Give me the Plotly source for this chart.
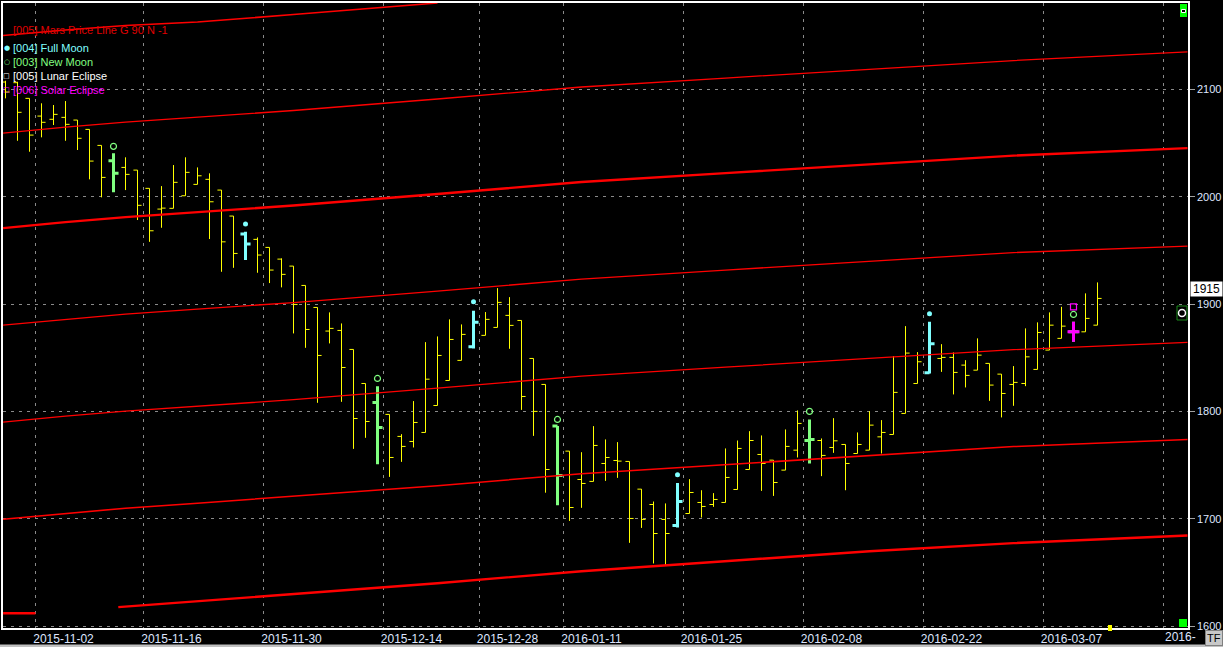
import plotly.graph_objects as go

# ---- daily bars (x = trading-day number) ----
BAR_IDX = list(range(92))
OPEN = [2106.8, 2106.2, 2091.6, 2075.1, 2072.1, 2073.9, 2071.4, 2062.7, 2047.8, 2033.5,
        2027.3, 2024.8, 2007.8, 1988.5, 1989.2, 2000.9, 2011.5, 2016.2, 2006.2, 1982.0,
        1965.2, 1960.3, 1952.8, 1941.9, 1935.4, 1917.4, 1896.9, 1874.9, 1875.5, 1857.8,
        1826.1, 1808.4, 1797.3, 1776.8, 1772.1, 1780.5, 1805.6, 1828.9, 1847.6, 1860.2,
        1870.9, 1878.3, 1889.5, 1884.8, 1849.4, 1825.2, 1786.6, 1763.1, 1736.7, 1734.9,
        1751.6, 1754.4, 1753.5, 1727.7, 1713.4, 1699.5, 1693.9, 1705.0, 1715.3, 1713.4,
        1715.3, 1727.4, 1746.0, 1760.0, 1754.7, 1745.4, 1764.0, 1773.0, 1773.0, 1766.5,
        1769.3, 1760.9, 1764.0, 1776.4, 1778.6, 1798.2, 1826.1, 1836.0, 1849.4, 1850.4,
        1843.2, 1838.5, 1844.8, 1834.8, 1825.2, 1826.1, 1839.2, 1857.2, 1868.1, 1874.2,
        1874.2, 1880.4]
HIGH = [2108.0, 2107.1, 2091.6, 2087.0, 2085.4, 2089.1, 2071.4, 2062.7, 2047.8, 2040.4,
        2036.7, 2024.8, 2007.8, 2009.9, 2029.5, 2036.7, 2027.3, 2021.8, 2006.2, 1982.0,
        1967.4, 1962.1, 1952.8, 1942.6, 1935.4, 1917.4, 1896.9, 1892.3, 1882.0, 1857.8,
        1826.1, 1823.6, 1797.3, 1778.9, 1809.7, 1864.6, 1869.9, 1885.8, 1881.1, 1893.8,
        1892.6, 1914.9, 1906.5, 1884.8, 1849.4, 1825.2, 1786.6, 1763.1, 1762.1, 1786.4,
        1774.0, 1771.5, 1753.5, 1727.7, 1716.2, 1714.4, 1733.5, 1737.0, 1726.7, 1724.0,
        1765.6, 1773.0, 1781.7, 1777.7, 1754.7, 1783.3, 1801.0, 1792.6, 1774.9, 1793.8,
        1769.3, 1780.5, 1800.3, 1792.0, 1851.6, 1879.5, 1855.3, 1883.5, 1862.7, 1855.0,
        1847.8, 1868.1, 1844.8, 1834.8, 1842.3, 1877.4, 1883.0, 1892.3, 1897.5, 1883.5,
        1910.0, 1920.2]
LOW = [2091.6, 2052.1, 2041.9, 2055.3, 2066.8, 2052.1, 2043.5, 2016.2, 1999.4, 2004.1,
       2006.2, 1978.3, 1958.0, 1971.1, 1989.2, 2000.9, 2011.5, 1960.6, 1930.1, 1933.8,
       1941.0, 1929.2, 1919.6, 1915.6, 1872.7, 1859.3, 1808.1, 1863.4, 1809.0, 1765.2,
       1775.5, 1751.0, 1739.1, 1753.1, 1766.5, 1780.5, 1805.6, 1828.9, 1847.6, 1858.7,
       1870.9, 1878.3, 1858.4, 1801.5, 1777.3, 1724.4, 1712.8, 1698.1, 1710.3, 1734.9,
       1735.4, 1738.2, 1677.7, 1691.6, 1658.5, 1656.2, 1692.0, 1705.0, 1701.3, 1711.2,
       1715.3, 1727.4, 1746.0, 1726.1, 1721.4, 1745.4, 1757.2, 1751.6, 1739.8, 1761.5,
       1726.7, 1760.9, 1764.0, 1760.9, 1778.6, 1798.2, 1826.1, 1835.5, 1836.9, 1815.9,
       1822.4, 1838.5, 1809.9, 1794.5, 1805.3, 1823.6, 1839.2, 1857.2, 1868.1, 1864.9,
       1874.2, 1880.4]
CLOSE = [2097.5, 2078.6, 2057.4, 2069.3, 2076.7, 2067.4, 2054.4, 2033.2, 2018.0, 2021.8,
         2020.8, 1992.0, 1968.3, 1989.4, 2013.4, 2022.7, 2019.5, 1995.3, 1958.0, 1947.2,
         1955.9, 1945.7, 1931.7, 1927.7, 1899.7, 1876.4, 1852.2, 1877.4, 1841.0, 1793.5,
         1790.7, 1785.2, 1757.2, 1767.5, 1789.8, 1830.1, 1852.2, 1867.1, 1871.8, 1883.2,
         1885.8, 1901.6, 1880.2, 1814.0, 1800.1, 1746.0, 1740.4, 1710.6, 1733.0, 1768.4,
         1757.2, 1753.8, 1700.4, 1699.5, 1686.4, 1686.4, 1716.2, 1724.6, 1711.6, 1718.1,
         1738.6, 1765.6, 1773.0, 1751.6, 1733.9, 1767.5, 1788.9, 1774.0, 1759.1, 1772.7,
         1751.6, 1769.3, 1787.3, 1780.5, 1817.8, 1854.4, 1846.3, 1863.0, 1850.4, 1836.4,
         1833.6, 1852.5, 1824.6, 1816.8, 1827.1, 1850.9, 1873.6, 1880.4, 1879.5, 1874.2,
         1886.7, 1905.3]

# ---- astro events (bar number + marker price) ----
FULL_MOON_IDX = [20, 39, 56, 77]
FULL_MOON_Y = [1974.5, 1902.2, 1741.0, 1891.0]
NEW_MOON_IDX = [9, 31, 46, 67, 89]
NEW_MOON_Y = [2046.9, 1830.8, 1792.6, 1800.1, 1890.4]
SOLAR_ECL_IDX = [89]
SOLAR_ECL_Y = [1897.5]

# ---- Mars price lines (G 90 N -1) ----
MARS_X = [-0.2, 5, 10, 16, 24, 36, 48, 60, 72, 84, 98.5]
MARS_1 = [2150.1, 2155.2, 2159.4, 2162.7, 2169.7, 2180.4]
MARS_2 = [2059.3, 2064.9, 2069.5, 2074.2, 2080.3, 2091.0, 2102.2, 2110.5, 2118.9, 2126.8, 2134.8]
MARS_3 = [1970.8, 1976.4, 1981.0, 1985.7, 1991.8, 2002.5, 2013.7, 2022.0, 2030.4, 2038.3, 2045.3]
MARS_4 = [1880.4, 1886.0, 1890.7, 1895.4, 1901.4, 1912.1, 1923.3, 1931.7, 1940.1, 1948.0, 1954.0]
MARS_5 = [1790.1, 1795.7, 1800.3, 1805.0, 1811.0, 1821.8, 1832.9, 1841.3, 1849.7, 1857.6, 1864.3]
MARS_6 = [1699.7, 1705.3, 1710.0, 1714.6, 1721.2, 1730.9, 1742.1, 1750.5, 1759.3, 1767.3, 1774.0]
MARS_7_X = [-0.2, 2.5, 6, 9.4, 16, 24, 36, 48, 60, 72, 84, 98.5]
MARS_7 = [1612.2, 1612.2, None, 1617.8, 1623.3, 1629.9, 1640.1, 1651.3, 1660.6, 1669.9, 1677.4, 1684.5]

# ---- axes ----
DATE_TICKS = [2.5, 11.5, 21.5, 31.5, 39.5, 46.5, 56.5, 66.5, 76.5, 86.5, 96.5]
DATE_LABELS = ["2015-11-02", "2015-11-16", "2015-11-30", "2015-12-14", "2015-12-28",
               "2016-01-11", "2016-01-25", "2016-02-08", "2016-02-22", "2016-03-07", "2016-"]
PRICE_TICKS = [1600, 1700, 1800, 1900, 2000, 2100]
LAST_PRICE_LABEL = "1915"

W, H = 1223, 647
PL, PR, PT, PB = 3, 1188, 3, 628
FONT = "Liberation Sans, Arial, sans-serif"
TICK_COL = "#dfe6ff"
GRID_COL = "#8a8a8a"


def pxx(px):
    return (px - PL) / (PR - PL)


def pxy(py):
    return (PB - py) / (PB - PT)


def pick(seq, idx):
    return [seq[i] for i in idx]


fig = go.Figure()

# red Mars lines (behind the bars)
mars = [(MARS_X[:len(MARS_1)], MARS_1, 1.6), (MARS_X, MARS_2, 1.3), (MARS_X, MARS_3, 2.4),
        (MARS_X, MARS_4, 1.3), (MARS_X, MARS_5, 1.3), (MARS_X, MARS_6, 1.5),
        (MARS_7_X, MARS_7, 2.4)]
for xs, ys, w in mars:
    fig.add_trace(go.Scatter(x=xs, y=ys, mode="lines", line=dict(color="#ff0000", width=w),
                             connectgaps=False, hoverinfo="skip"))

special = set(FULL_MOON_IDX) | set(NEW_MOON_IDX) | set(SOLAR_ECL_IDX)
plain = [i for i in BAR_IDX if i not in special]


def ohlc(idx, color, width, tick):
    return go.Ohlc(
        x=pick(BAR_IDX, idx), open=pick(OPEN, idx), high=pick(HIGH, idx),
        low=pick(LOW, idx), close=pick(CLOSE, idx), tickwidth=tick,
        increasing=dict(line=dict(color=color, width=width)),
        decreasing=dict(line=dict(color=color, width=width)),
        hoverinfo="skip",
    )


fig.add_trace(ohlc(plain, "#ffff00", 1, 0.34))
fig.add_trace(ohlc(NEW_MOON_IDX, "#80ff80", 3, 0.42))
fig.add_trace(ohlc(FULL_MOON_IDX, "#80ffff", 3, 0.42))
fig.add_trace(ohlc(SOLAR_ECL_IDX, "#ff00ff", 3, 0.5))

fig.add_trace(go.Scatter(x=FULL_MOON_IDX, y=FULL_MOON_Y, mode="markers", hoverinfo="skip",
                         marker=dict(symbol="circle", size=5, color="#80ffff")))
fig.add_trace(go.Scatter(x=NEW_MOON_IDX, y=NEW_MOON_Y, mode="markers", hoverinfo="skip",
                         marker=dict(symbol="circle-open", size=6, color="#80ff80",
                                     line=dict(width=1.2))))
fig.add_trace(go.Scatter(x=SOLAR_ECL_IDX, y=SOLAR_ECL_Y, mode="markers", hoverinfo="skip",
                         marker=dict(symbol="square-open", size=6, color="#ff00ff",
                                     line=dict(width=1.2))))

# legend (drawn like the terminal's study list)
legend = [
    ("[005] Mars Price Line G 90 N -1", "#e00000", None, 30),
    ("[004] Full Moon", "#80ffff", "●", 48),
    ("[003] New Moon", "#80ff80", "○", 62),
    ("[005] Lunar Eclipse", "#ffffff", "□", 76),
    ("[006] Solar Eclipse", "#ff00ff", "□", 90),
]
ann = []
for text, col, sym, py in legend:
    ann.append(dict(x=pxx(11), y=pxy(py), xref="paper", yref="paper", text=text,
                    showarrow=False, xanchor="left", yanchor="middle",
                    font=dict(family=FONT, size=11, color=col)))
    if sym:
        ann.append(dict(x=pxx(6.5), y=pxy(py), xref="paper", yref="paper", text=sym,
                        showarrow=False, xanchor="center", yanchor="middle",
                        font=dict(family="DejaVu Sans", size=7, color=col)))

ann.append(dict(x=pxx(1190), y=pxy(289), xref="paper", yref="paper", text=LAST_PRICE_LABEL,
                showarrow=False, xanchor="left", yanchor="middle", bgcolor="#ffffff",
                borderpad=0, width=31, height=14,
                font=dict(family=FONT, size=12, color="#000000")))
ann.append(dict(x=pxx(1223), y=pxy(646), xref="paper", yref="paper", text="TF",
                showarrow=False, xanchor="right", yanchor="bottom", bgcolor="#c8c8c8",
                bordercolor="#808080", borderwidth=1, borderpad=1,
                font=dict(family=FONT, size=11, color="#000000")))
# the last date label is cut short by the price scale; place it beside its grid line
ann.append(dict(x=DATE_TICKS[-1], y=pxy(637), xref="x", yref="paper", text=DATE_LABELS[-1],
                showarrow=False, xanchor="left", yanchor="middle", xshift=-1,
                font=dict(family=FONT, size=12, color=TICK_COL)))

shapes = [
    dict(type="rect", xref="paper", yref="paper", x0=pxx(1180), x1=pxx(1187), y0=pxy(17),
         y1=pxy(4), fillcolor="#00ff00", line=dict(width=0)),
    dict(type="rect", xref="paper", yref="paper", x0=pxx(1181.5), x1=pxx(1185.5), y0=pxy(12.5),
         y1=pxy(9.5), fillcolor="#000000", line=dict(color="#ffffff", width=1)),
    dict(type="rect", xref="paper", yref="paper", x0=pxx(1179), x1=pxx(1187), y0=pxy(627),
         y1=pxy(619), fillcolor="#00ff00", line=dict(width=0)),
    dict(type="rect", xref="paper", yref="paper", x0=pxx(1177), x1=pxx(1187), y0=pxy(320),
         y1=pxy(306), fillcolor="#000000", line=dict(color="#1a8a1a", width=1)),
    dict(type="circle", xref="paper", yref="paper", x0=pxx(1178.5), x1=pxx(1185.5),
         y0=pxy(316.5), y1=pxy(309.5), fillcolor="#000000", line=dict(color="#ffffff", width=1.5)),
    dict(type="rect", xref="paper", yref="paper", x0=pxx(1108), x1=pxx(1112), y0=pxy(631),
         y1=pxy(625), fillcolor="#ffff00", line=dict(width=0)),
    dict(type="rect", xref="paper", yref="paper", x0=pxx(0), x1=pxx(1223), y0=pxy(647),
         y1=pxy(644.5), fillcolor="#c0c0c0", line=dict(width=0), layer="below"),
]

tick_text = DATE_LABELS[:-1] + [""]

fig.update_layout(
    width=W, height=H,
    margin=dict(l=PL, r=W - PR, t=PT, b=H - PB, autoexpand=False),
    paper_bgcolor="#000000", plot_bgcolor="#000000",
    showlegend=False, hovermode=False,
    annotations=ann, shapes=shapes,
    font=dict(family=FONT, size=12, color=TICK_COL),
)
# 12 px per bar, bar centres on pixel centres
fig.update_xaxes(
    range=[-2.5 / 12, -2.5 / 12 + (PR - PL) / 12], tickmode="array", tickvals=DATE_TICKS,
    ticktext=tick_text, ticks="", ticklabelshift=28, ticklabelstandoff=-1,
    tickfont=dict(family=FONT, size=12, color=TICK_COL), automargin=False,
    showgrid=True, gridcolor=GRID_COL, griddash="3px,5px", gridwidth=1,
    zeroline=False, showline=True, linecolor="#ffffff", linewidth=1.5, mirror=True,
    rangeslider=dict(visible=False), fixedrange=True,
)
fig.update_yaxes(
    range=[1598.4, 2180.4], side="right", tickmode="array", tickvals=PRICE_TICKS,
    ticks="outside", ticklen=5, tickcolor="#a0a0a0", ticklabelstandoff=0,
    tickfont=dict(family=FONT, size=11, color=TICK_COL), automargin=False,
    showgrid=True, gridcolor=GRID_COL, griddash="3px,5px", gridwidth=1,
    zeroline=False, showline=True, linecolor="#ffffff", linewidth=1.5, mirror=True,
    fixedrange=True,
)

fig.write_html("out.html", config={"displayModeBar": False},
               post_script="document.body.style.margin='0';"
                           "document.body.style.background='#000';"
                           "document.body.style.overflow='hidden';")
